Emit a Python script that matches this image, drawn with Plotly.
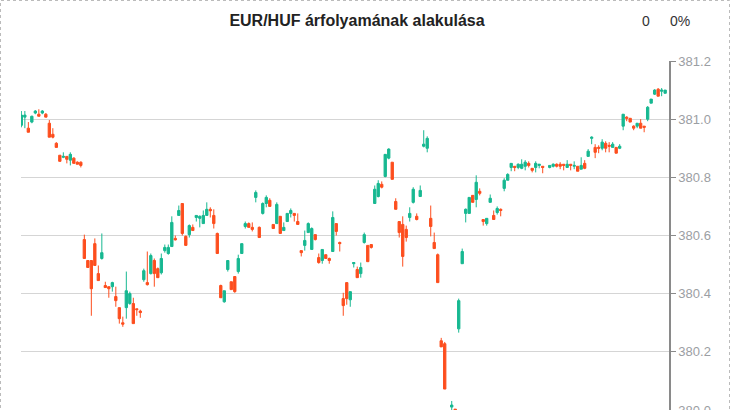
import plotly.graph_objects as go

TITLE = "EUR/HUF árfolyamának alakulása"

periods = (list(range(0, 122)) + list(range(123, 150)) + list(range(151, 185)))

open_ = [
    380.979, 381.007, 380.969, 380.990, 381.021, 381.017, 381.021, 381.017, 380.986, 380.948,
    380.917, 380.876, 380.869, 380.872, 380.859, 380.866, 380.852, 380.852, 380.586, 380.514,
    380.514, 380.572, 380.469, 380.521, 380.428, 380.424, 380.424, 380.390, 380.352, 380.300,
    380.352, 380.366, 380.366, 380.348, 380.340, 380.448, 380.438, 380.469, 380.514, 380.486,
    380.472, 380.548, 380.538, 380.562, 380.590, 380.669, 380.710, 380.597, 380.603, 380.628,
    380.662, 380.659, 380.641, 380.669, 380.690, 380.669, 380.607, 380.428, 380.372, 380.483,
    380.441, 380.459, 380.476, 380.538, 380.631, 380.641, 380.628, 380.731, 380.628, 380.676,
    380.710, 380.721, 380.638, 380.641, 380.666, 380.617, 380.648, 380.676, 380.676, 380.648,
    380.548, 380.566, 380.610, 380.552, 380.603, 380.524, 380.514, 380.534, 380.521, 380.545,
    380.641, 380.576, 380.383, 380.438, 380.379, 380.503, 380.483, 380.469, 380.576, 380.566,
    380.569, 380.710, 380.734, 380.776, 380.803, 380.866, 380.852, 380.717, 380.648, 380.638,
    380.621, 380.662, 380.714, 380.666, 380.734, 380.907, 380.900, 380.659, 380.576, 380.534,
    380.238, 380.228, 380.010, 380.003, 380.279, 380.503, 380.676, 380.676, 380.738, 380.724,
    380.752, 380.655, 380.641, 380.714, 380.669, 380.679, 380.690, 380.762, 380.790, 380.834,
    380.838, 380.834, 380.831, 380.838, 380.848, 380.831, 380.834, 380.841, 380.838, 380.834,
    380.838, 380.845, 380.845, 380.845, 380.834, 380.845, 380.838, 380.838, 380.828, 380.848,
    380.872, 380.934, 380.903, 380.903,
    380.900, 380.917, 380.910, 380.903, 380.903, 380.900, 380.976, 381.007, 381.003, 380.976,
    380.976, 380.986, 380.976, 381.000, 381.055, 381.086, 381.103, 381.096, 381.089,
]

high = [
    381.028, 381.028, 380.990, 381.012, 381.031, 381.034, 381.031, 381.021, 380.997, 380.969,
    380.921, 380.876, 380.886, 380.872, 380.886, 380.869, 380.855, 380.855, 380.603, 380.514,
    380.514, 380.590, 380.497, 380.607, 380.441, 380.424, 380.441, 380.424, 380.352, 380.321,
    380.476, 380.407, 380.386, 380.348, 380.345, 380.486, 380.545, 380.538, 380.521, 380.490,
    380.538, 380.569, 380.569, 380.666, 380.600, 380.703, 380.710, 380.600, 380.638, 380.638,
    380.669, 380.669, 380.686, 380.714, 380.697, 380.690, 380.610, 380.431, 380.410, 380.514,
    380.441, 380.459, 380.534, 380.572, 380.648, 380.645, 380.645, 380.755, 380.631, 380.714,
    380.738, 380.728, 380.638, 380.714, 380.666, 380.645, 380.676, 380.693, 380.676, 380.676,
    380.548, 380.617, 380.645, 380.628, 380.603, 380.538, 380.552, 380.534, 380.524, 380.683,
    380.641, 380.579, 380.403, 380.438, 380.407, 380.507, 380.493, 380.507, 380.610, 380.566,
    380.569, 380.772, 380.790, 380.786, 380.879, 380.900, 380.852, 380.728, 380.648, 380.666,
    380.634, 380.697, 380.766, 380.676, 380.772, 380.962, 380.941, 380.703, 380.610, 380.538,
    380.248, 380.234, 380.031, 380.003, 380.383, 380.555, 380.693, 380.731, 380.738, 380.807,
    380.762, 380.655, 380.659, 380.741, 380.686, 380.700, 380.693, 380.797, 380.814, 380.848,
    380.838, 380.848, 380.862, 380.859, 380.855, 380.831, 380.855, 380.845, 380.838, 380.841,
    380.848, 380.848, 380.852, 380.845, 380.859, 380.845, 380.855, 380.838, 380.869, 380.859,
    380.897, 380.941, 380.914, 380.910,
    380.931, 380.924, 380.921, 380.921, 380.903, 380.914, 381.017, 381.010, 381.003, 380.979,
    380.986, 381.000, 380.976, 381.045, 381.069, 381.103, 381.107, 381.107, 381.100,
]

low = [
    380.972, 380.969, 380.955, 380.986, 381.017, 381.010, 381.017, 381.007, 380.938, 380.934,
    380.903, 380.855, 380.866, 380.848, 380.841, 380.848, 380.845, 380.834, 380.521, 380.490,
    380.324, 380.497, 380.445, 380.517, 380.421, 380.386, 380.407, 380.355, 380.297, 380.286,
    380.314, 380.362, 380.297, 380.324, 380.317, 380.441, 380.428, 380.466, 380.424, 380.455,
    380.466, 380.541, 380.534, 380.562, 380.583, 380.669, 380.600, 380.566, 380.593, 380.617,
    380.648, 380.628, 380.641, 380.669, 380.662, 380.624, 380.538, 380.386, 380.369, 380.476,
    380.414, 380.403, 380.469, 380.538, 380.624, 380.628, 380.614, 380.714, 380.593, 380.672,
    380.697, 380.700, 380.624, 380.641, 380.607, 380.617, 380.648, 380.662, 380.648, 380.638,
    380.528, 380.548, 380.610, 380.552, 380.583, 380.503, 380.503, 380.521, 380.503, 380.545,
    380.600, 380.545, 380.324, 380.362, 380.355, 380.490, 380.455, 380.455, 380.572, 380.510,
    380.555, 380.710, 380.731, 380.762, 380.800, 380.862, 380.793, 380.690, 380.593, 380.493,
    380.579, 380.648, 380.710, 380.652, 380.734, 380.903, 380.886, 380.597, 380.555, 380.438,
    380.217, 380.072, 380.000, 379.998, 380.266, 380.503, 380.645, 380.676, 380.714, 380.697,
    380.738, 380.634, 380.634, 380.714, 380.655, 380.672, 380.666, 380.752, 380.790, 380.821,
    380.821, 380.828, 380.828, 380.824, 380.834, 380.817, 380.817, 380.831, 380.814, 380.831,
    380.834, 380.834, 380.828, 380.824, 380.834, 380.824, 380.828, 380.821, 380.828, 380.828,
    380.872, 380.914, 380.866, 380.883,
    380.893, 380.886, 380.886, 380.903, 380.883, 380.897, 380.962, 380.993, 380.990, 380.962,
    380.969, 380.969, 380.955, 380.993, 381.055, 381.083, 381.079, 381.079, 381.089,
]

close = [
    381.014, 381.014, 380.955, 381.010, 381.028, 381.010, 381.028, 381.007, 380.938, 380.938,
    380.903, 380.855, 380.872, 380.862, 380.879, 380.848, 380.845, 380.841, 380.521, 380.490,
    380.417, 380.497, 380.445, 380.541, 380.421, 380.417, 380.438, 380.376, 380.314, 380.295,
    380.410, 380.400, 380.297, 380.345, 380.335, 380.479, 380.431, 380.531, 380.469, 380.455,
    380.521, 380.559, 380.559, 380.645, 380.585, 380.686, 380.607, 380.566, 380.634, 380.617,
    380.669, 380.666, 380.669, 380.690, 380.685, 380.641, 380.538, 380.386, 380.410, 380.514,
    380.414, 380.407, 380.521, 380.572, 380.641, 380.628, 380.621, 380.748, 380.593, 380.710,
    380.731, 380.700, 380.624, 380.707, 380.607, 380.628, 380.676, 380.686, 380.669, 380.638,
    380.541, 380.583, 380.641, 380.624, 380.586, 380.507, 380.552, 380.521, 380.514, 380.662,
    380.614, 380.572, 380.359, 380.383, 380.407, 380.507, 380.455, 380.490, 380.603, 380.510,
    380.559, 380.759, 380.779, 380.766, 380.879, 380.897, 380.793, 380.690, 380.610, 380.528,
    380.593, 380.676, 380.759, 380.655, 380.755, 380.914, 380.934, 380.631, 380.555, 380.438,
    380.217, 380.072, 380.017, 380.000, 380.376, 380.545, 380.690, 380.731, 380.714, 380.783,
    380.745, 380.648, 380.659, 380.728, 380.655, 380.693, 380.686, 380.790, 380.810, 380.848,
    380.834, 380.845, 380.845, 380.852, 380.841, 380.824, 380.848, 380.845, 380.834, 380.841,
    380.845, 380.838, 380.838, 380.841, 380.845, 380.841, 380.841, 380.821, 380.841, 380.831,
    380.890, 380.938, 380.886, 380.900,
    380.921, 380.900, 380.907, 380.914, 380.883, 380.907, 381.017, 381.003, 380.990, 380.969,
    380.986, 380.969, 380.972, 381.041, 381.069, 381.100, 381.079, 381.100, 381.100,
]

price_ticks = [380.0, 380.2, 380.4, 380.6, 380.8, 381.0, 381.2]
summary_labels = ["0", "0%"]

GREEN = "#17b891"
RED = "#fd4e1e"
FONT = "Liberation Sans, Arial, sans-serif"

W, H = 730, 410
ML, MR, MT, MB = 21, 61, 61, 0
PW, PH = W - ML - MR, H - MT - MB


def px_x(p):
    return (p - ML) / PW


def px_y(p):
    return (H - MB - p) / PH


fig = go.Figure(
    go.Candlestick(
        x=periods, open=open_, high=high, low=low, close=close,
        increasing=dict(line=dict(color=GREEN, width=1), fillcolor=GREEN),
        decreasing=dict(line=dict(color=RED, width=1), fillcolor=RED),
        whiskerwidth=0,
        showlegend=False,
        hoverinfo="x+y",
    )
)

fig.update_layout(
    width=W, height=H,
    margin=dict(l=ML, r=MR, t=MT, b=MB, pad=0, autoexpand=False),
    paper_bgcolor="white", plot_bgcolor="white",
    boxgap=0.05,
    font=dict(family=FONT),
    title=dict(
        text="<b>" + TITLE + "</b>",
        font=dict(family=FONT, size=16, color="#222222"),
        xref="container", x=357 / W, xanchor="center",
        yref="container", y=1 - 20.5 / H, yanchor="middle",
        automargin=False,
    ),
    xaxis=dict(
        range=[-0.1, 185.1], visible=False, showgrid=False, zeroline=False,
        rangeslider=dict(visible=False), automargin=False,
    ),
    yaxis=dict(
        side="right", range=[380.0, 381.2],
        tickvals=price_ticks, ticktext=[f"{v:.1f}" for v in price_ticks],
        showgrid=True, gridcolor="#d5d5d5", gridwidth=1,
        showline=True, linecolor="#8a8a8a", linewidth=1.5,
        ticks="outside", ticklen=5, tickcolor="#8a8a8a", tickwidth=1,
        tickfont=dict(family=FONT, size=13, color="#9b9ea3"),
        ticklabeloverflow="allow",
        automargin=False,
        zeroline=False,
    ),
    annotations=[
        dict(text=summary_labels[0], xref="paper", yref="paper",
             x=px_x(645.5), y=px_y(21), xanchor="center", yanchor="middle",
             showarrow=False, font=dict(family=FONT, size=14, color="#333333")),
        dict(text=summary_labels[1], xref="paper", yref="paper",
             x=px_x(679.5), y=px_y(21), xanchor="center", yanchor="middle",
             showarrow=False, font=dict(family=FONT, size=14, color="#333333")),
    ],
    shapes=[
        dict(type="rect", xref="paper", yref="paper",
             x0=px_x(0.5), x1=px_x(729.5), y0=px_y(430), y1=px_y(0.5),
             line=dict(color="#bbbbbb", width=1, dash="3px,3px"),
             fillcolor="rgba(0,0,0,0)", layer="above"),
    ],
)

fig.write_html(
    "out.html",
    config={"displayModeBar": False},
    post_script=(
        "document.documentElement.style.margin='0';"
        "document.body.style.margin='0';"
        "document.body.style.padding='0';"
        "document.body.style.overflow='hidden';"
    ),
)
